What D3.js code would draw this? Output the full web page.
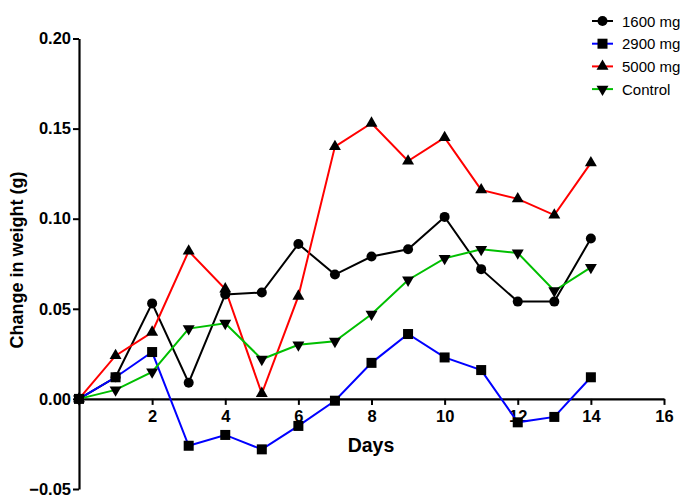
<!DOCTYPE html>
<html>
<head>
<meta charset="utf-8">
<script src="https://cdn.jsdelivr.net/npm/d3@7"></script>
<style>
  html, body { margin: 0; padding: 0; background: #fff; }
  svg { display: block; font-family: "Liberation Sans", Arial, sans-serif; }
</style>
</head>
<body>
<svg id="chart" width="681" height="496"></svg>
<script>
// Daily change in body weight per dose group
const days = [0, 1, 2, 3, 4, 5, 6, 7, 8, 9, 10, 11, 12, 13, 14];
const mg1600 = [0, 0.012, 0.053, 0.009, 0.058, 0.059, 0.086, 0.069, 0.079, 0.083, 0.101, 0.072, 0.054, 0.054, 0.089];
const mg2900 = [0, 0.012, 0.026, -0.026, -0.020, -0.028, -0.015, -0.001, 0.020, 0.036, 0.023, 0.016, -0.013, -0.010, 0.012];
const mg5000 = [0, 0.024, 0.037, 0.082, 0.061, 0.003, 0.057, 0.140, 0.153, 0.132, 0.145, 0.116, 0.111, 0.102, 0.131];
const control = [0, 0.005, 0.015, 0.039, 0.042, 0.022, 0.030, 0.032, 0.047, 0.066, 0.078, 0.083, 0.081, 0.060, 0.073];

const xTicks = [2, 4, 6, 8, 10, 12, 14, 16];
const yTicks = [-0.05, 0.00, 0.05, 0.10, 0.15, 0.20];

const series = [
  { name: "1600 mg", values: mg1600, color: "#000000", symbol: "circle" },
  { name: "2900 mg", values: mg2900, color: "#0000ff", symbol: "square" },
  { name: "5000 mg", values: mg5000, color: "#ff0000", symbol: "up" },
  { name: "Control", values: control, color: "#00bf00", symbol: "down" }
];

const svg = d3.select("#chart");

const x = d3.scaleLinear().domain([0, 16]).range([79, 664]);
const y = d3.scaleLinear().domain([-0.05, 0.20]).range([489, 38.5]);

// y axis
const yAxis = svg.append("g")
  .attr("transform", `translate(${x(0)},0)`)
  .call(d3.axisLeft(y).tickValues(yTicks).tickFormat(d3.format(".2f")).tickSize(6).tickSizeOuter(0));
yAxis.select(".domain").attr("stroke", "#000").attr("stroke-width", 2.2);
yAxis.selectAll(".tick line").attr("stroke-width", 2);
yAxis.selectAll(".tick text")
  .attr("x", -8)
  .attr("font-size", 16.5).attr("font-weight", "bold")
  .attr("font-family", "Liberation Sans, Arial, sans-serif")
  .attr("fill", "#000");

// x axis drawn at zero
const xAxis = svg.append("g")
  .attr("transform", `translate(0,${y(0)})`)
  .call(d3.axisBottom(x).tickValues(xTicks).tickSize(6).tickSizeOuter(0));
xAxis.select(".domain").attr("stroke", "#000").attr("stroke-width", 2.2);
xAxis.selectAll(".tick line").attr("stroke-width", 2);
xAxis.selectAll(".tick text")
  .attr("y", 11)
  .attr("font-size", 16.5).attr("font-weight", "bold")
  .attr("font-family", "Liberation Sans, Arial, sans-serif")
  .attr("fill", "#000");

// axis titles
svg.append("text")
  .attr("x", 371).attr("y", 452)
  .attr("text-anchor", "middle")
  .attr("font-size", 19.5).attr("font-weight", "bold")
  .text("Days");

svg.append("text")
  .attr("transform", `translate(23,260) rotate(-90)`)
  .attr("text-anchor", "middle")
  .attr("font-size", 18).attr("font-weight", "bold")
  .text("Change in weight (g)");

const line = d3.line().x((d, i) => x(days[i])).y(d => y(d));

function drawMarker(g, kind, cx, cy) {
  if (kind === "circle") {
    g.append("circle").attr("cx", cx).attr("cy", cy).attr("r", 5).attr("fill", "#000");
  } else if (kind === "square") {
    g.append("rect").attr("x", cx - 5).attr("y", cy - 5).attr("width", 10).attr("height", 10).attr("fill", "#000");
  } else {
    const p = d3.symbol().type(d3.symbolTriangle).size(62)();
    g.append("path").attr("d", p)
      .attr("transform", `translate(${cx},${cy})` + (kind === "down" ? " rotate(180)" : ""))
      .attr("fill", "#000");
  }
}

const plot = svg.append("g");
series.forEach(s => {
  plot.append("path")
    .datum(s.values)
    .attr("d", line)
    .attr("fill", "none")
    .attr("stroke", s.color)
    .attr("stroke-width", 2);
});
series.forEach(s => {
  const g = plot.append("g");
  s.values.forEach((v, i) => drawMarker(g, s.symbol, x(days[i]), y(v)));
});

// legend
const legend = svg.append("g");
series.forEach((s, i) => {
  const ly = 21 + i * 22.7;
  legend.append("line")
    .attr("x1", 592).attr("x2", 613).attr("y1", ly).attr("y2", ly)
    .attr("stroke", s.color).attr("stroke-width", 2);
  drawMarker(legend, s.symbol, 602.5, ly);
  legend.append("text")
    .attr("x", 622).attr("y", ly + 5.5)
    .attr("font-size", 15)
    .text(s.name);
});
</script>
</body>
</html>
